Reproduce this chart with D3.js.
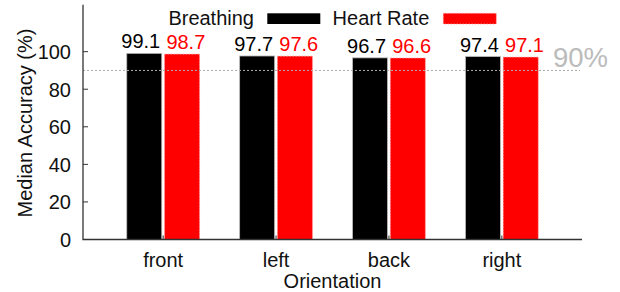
<!DOCTYPE html>
<html lang="en">
<head>
  <meta charset="utf-8">
  <title>Median Accuracy by Orientation</title>
  <script src="https://cdn.jsdelivr.net/npm/d3@7"></script>
  <style>
    body { margin: 0; background: #fff; }
    text { font-family: "Liberation Sans", Arial, sans-serif; }
  </style>
</head>
<body>
  <script>
  // data
  var orientations = ["front", "left", "back", "right"];
  var breathing = [99.1, 97.7, 96.7, 97.4];
  var heartRate = [98.7, 97.6, 96.6, 97.1];
  var seriesNames = ["Breathing", "Heart Rate"];
  var yTicks = [0, 20, 40, 60, 80, 100];
  var threshold = 90;

  var width = 620, height = 292;
  // plot box (window.top is read-only, so no "top" here)
  var plotLeft = 83, plotRight = 582, plotTop = 4.7, plotBottom = 239.5;

  var svg = d3.select("body").append("svg")
    .attr("width", width)
    .attr("height", height);

  var x = d3.scaleLinear().domain([-0.71, 3.71]).range([plotLeft, plotRight]);
  var y = d3.scaleLinear().domain([0, 125]).range([plotBottom, plotTop]);

  var barW = 35, offset = 18.9;
  // labelDx: value labels sit a little outward from the bar centre
  var series = [
    { name: seriesNames[0], values: breathing, color: "#000", stroke: "#bbb", dx: -offset, labelDx: -3.5 },
    { name: seriesNames[1], values: heartRate, color: "#ff0000", stroke: "#ff9a9a", dx: offset, labelDx: 3.8 }
  ];

  // bars
  series.forEach(function(s) {
    var g = svg.append("g");
    g.selectAll("rect")
      .data(s.values)
      .enter().append("rect")
      .attr("x", (d, i) => x(i) + s.dx - barW / 2)
      .attr("y", d => y(d))
      .attr("width", barW)
      .attr("height", d => y(0) - y(d))
      .attr("fill", s.color)
      .attr("stroke", s.stroke)
      .attr("stroke-width", 0.8)
      .attr("stroke-dasharray", s.color === "#000" ? null : "1.5,1.5");

    g.selectAll("text")
      .data(s.values)
      .enter().append("text")
      .attr("x", (d, i) => x(i) + s.dx + s.labelDx)
      .attr("y", d => y(d) - 5)
      .attr("text-anchor", "middle")
      .attr("font-size", "20px")
      .attr("fill", s.color)
      .text(d => d.toFixed(1));
  });

  // 90% reference line
  svg.append("line")
    .attr("x1", plotLeft).attr("x2", plotRight - 2)
    .attr("y1", y(threshold)).attr("y2", y(threshold))
    .attr("stroke", "#aaa")
    .attr("stroke-width", 1)
    .attr("stroke-dasharray", "2,2");
  svg.append("text")
    .attr("x", 553)
    .attr("y", y(threshold) - 3.6)
    .attr("font-size", "27.5px")
    .attr("fill", "#bbb")
    .text(threshold + "%");

  // axes
  var axisColor = "#333";
  svg.append("path")
    .attr("d", `M${plotLeft},${plotTop}V${plotBottom}H${plotRight}`)
    .attr("fill", "none")
    .attr("stroke", axisColor)
    .attr("stroke-width", 1.3);

  svg.append("g").selectAll("line")
    .data(yTicks)
    .enter().append("line")
    .attr("x1", plotLeft).attr("x2", plotLeft + 5)
    .attr("y1", d => y(d)).attr("y2", d => y(d))
    .attr("stroke", axisColor);

  svg.append("g").selectAll("text")
    .data(yTicks)
    .enter().append("text")
    .attr("x", 71)
    .attr("y", d => y(d) + 7.5)
    .attr("text-anchor", "end")
    .attr("font-size", "20px")
    .attr("fill", "#111")
    .text(d => d);

  svg.append("g").selectAll("line")
    .data(orientations)
    .enter().append("line")
    .attr("x1", (d, i) => x(i)).attr("x2", (d, i) => x(i))
    .attr("y1", plotBottom).attr("y2", plotBottom - 4)
    .attr("stroke", axisColor);

  svg.append("g").selectAll("text")
    .data(orientations)
    .enter().append("text")
    .attr("x", (d, i) => x(i))
    .attr("y", 267)
    .attr("text-anchor", "middle")
    .attr("font-size", "20px")
    .attr("fill", "#111")
    .text(d => d);

  svg.append("text")
    .attr("x", (plotLeft + plotRight) / 2)
    .attr("y", 288)
    .attr("text-anchor", "middle")
    .attr("font-size", "20px")
    .attr("fill", "#111")
    .text("Orientation");

  svg.append("text")
    .attr("transform", "translate(32,123) rotate(-90)")
    .attr("text-anchor", "middle")
    .attr("font-size", "20px")
    .attr("fill", "#111")
    .text("Median Accuracy (%)");

  // legend
  var legend = [
    { textEnd: 254, swatch: 267.3, color: "#000", stroke: null },
    { textEnd: 429.3, swatch: 443.3, color: "#ff0000", stroke: "#ff9a9a" }
  ];
  legend.forEach(function(l, i) {
    svg.append("text")
      .attr("x", l.textEnd)
      .attr("y", 25)
      .attr("text-anchor", "end")
      .attr("font-size", "20px")
      .attr("fill", "#111")
      .text(seriesNames[i]);
    svg.append("rect")
      .attr("x", l.swatch).attr("y", 13.3)
      .attr("width", 53).attr("height", 10.7)
      .attr("fill", l.color)
      .attr("stroke", l.stroke)
      .attr("stroke-width", 0.8)
      .attr("stroke-dasharray", l.stroke ? "1.5,1.5" : null);
  });
  </script>
</body>
</html>
